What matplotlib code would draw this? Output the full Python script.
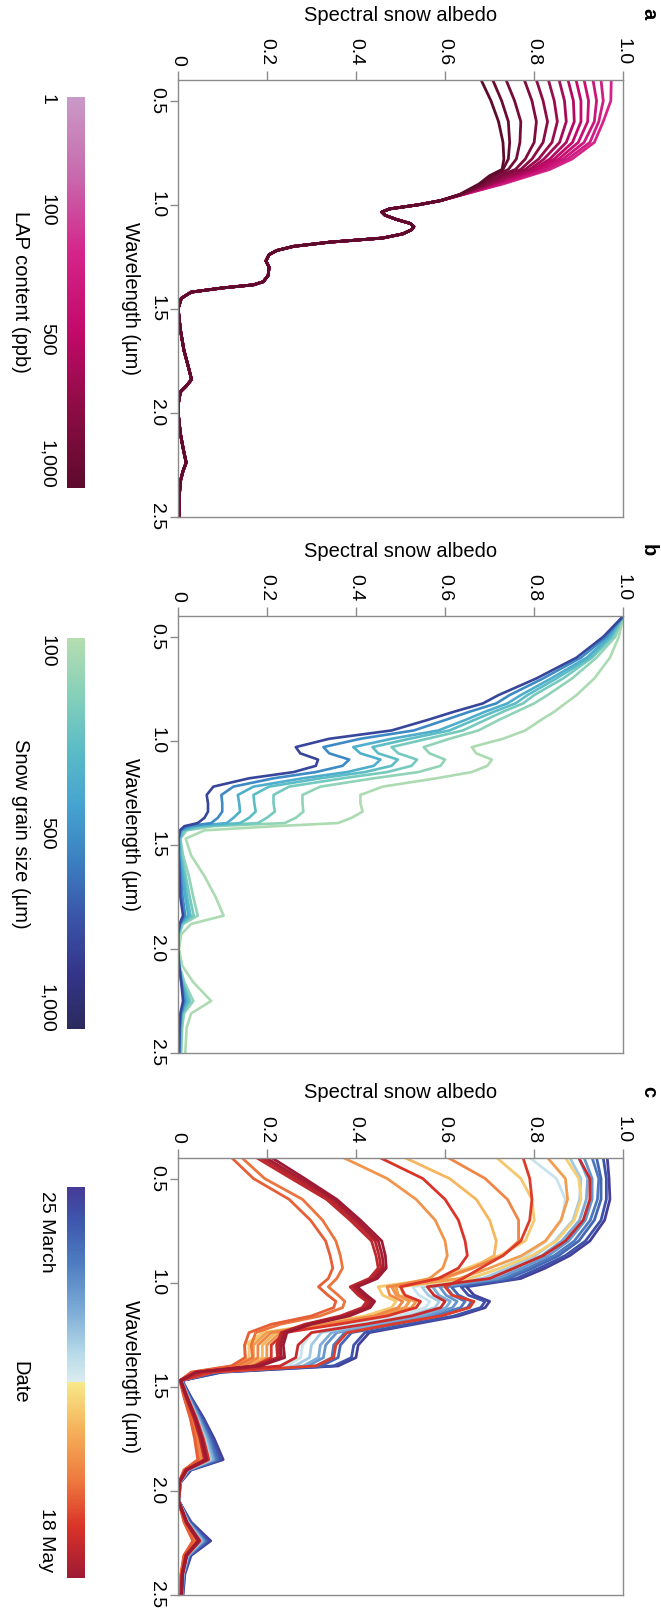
import matplotlib
matplotlib.use("Agg")
import matplotlib.pyplot as plt
import numpy as np
from matplotlib.cm import ScalarMappable
from matplotlib.colors import LinearSegmentedColormap, Normalize

plt.rcParams["font.family"] = ["Liberation Sans", "DejaVu Sans"]

# ---------------------------------------------------------------- data
# (a) light-absorbing particle content, one curve per level
lap_ppb = [1, 10, 25, 50, 100, 150, 200, 300, 400, 500, 600, 800, 1000]
wl_a_head = [0.40, 0.50, 0.60, 0.70, 0.78, 0.83, 0.86, 0.90, 0.95]
albedo_a_head = [
    [0.973, 0.972, 0.955, 0.935, 0.885, 0.835, 0.790, 0.730, 0.642],
    [0.950, 0.955, 0.945, 0.925, 0.875, 0.828, 0.785, 0.725, 0.641],
    [0.932, 0.940, 0.935, 0.912, 0.865, 0.820, 0.778, 0.720, 0.640],
    [0.912, 0.922, 0.920, 0.899, 0.855, 0.813, 0.772, 0.716, 0.640],
    [0.894, 0.905, 0.905, 0.886, 0.845, 0.806, 0.765, 0.712, 0.639],
    [0.876, 0.888, 0.890, 0.872, 0.835, 0.798, 0.758, 0.708, 0.638],
    [0.856, 0.868, 0.872, 0.857, 0.822, 0.790, 0.750, 0.704, 0.638],
    [0.832, 0.845, 0.852, 0.840, 0.810, 0.780, 0.742, 0.700, 0.637],
    [0.805, 0.820, 0.830, 0.820, 0.795, 0.770, 0.733, 0.695, 0.636],
    [0.778, 0.795, 0.805, 0.800, 0.780, 0.758, 0.724, 0.690, 0.636],
    [0.737, 0.756, 0.770, 0.768, 0.760, 0.742, 0.713, 0.685, 0.635],
    [0.707, 0.727, 0.742, 0.745, 0.742, 0.730, 0.705, 0.680, 0.634],
    [0.681, 0.703, 0.720, 0.730, 0.732, 0.728, 0.700, 0.676, 0.633],
]
# beyond ~0.95 um the LAP curves collapse onto one another
wl_a_tail = [0.98, 1.00, 1.02, 1.035, 1.05, 1.07, 1.09, 1.105, 1.12, 1.14,
             1.16, 1.18, 1.20, 1.22, 1.24, 1.27, 1.30, 1.34, 1.37, 1.385,
             1.40, 1.42, 1.45, 1.50, 1.60, 1.70, 1.78, 1.84, 1.87, 1.90,
             1.95, 2.00, 2.10, 2.18, 2.24, 2.28, 2.33, 2.42, 2.50]
albedo_a_tail = [0.590, 0.540, 0.475, 0.458, 0.465, 0.490, 0.522, 0.530, 0.525, 0.505,
                 0.460, 0.340, 0.260, 0.222, 0.205, 0.198, 0.205, 0.203, 0.192, 0.170,
                 0.100, 0.030, 0.008, 0.001, 0.006, 0.014, 0.024, 0.031, 0.020, 0.006,
                 0.002, 0.001, 0.006, 0.013, 0.019, 0.012, 0.006, 0.003, 0.003]

# (b) snow grain size
grain_um = [100, 200, 300, 400, 500, 700, 1000]
wl_b = [0.40, 0.50, 0.60, 0.70, 0.78, 0.82, 0.86, 0.90, 0.95, 0.99, 1.03, 1.06,
        1.09, 1.12, 1.15, 1.18, 1.22, 1.26, 1.30, 1.34, 1.37, 1.395, 1.41, 1.43,
        1.47, 1.55, 1.65, 1.75, 1.84, 1.88, 1.93, 2.00, 2.08, 2.16, 2.25, 2.31,
        2.38, 2.50]
albedo_b = [
    [1.00, 0.990, 0.970, 0.935, 0.895, 0.870, 0.845, 0.815, 0.780, 0.730, 0.660,
     0.670, 0.705, 0.695, 0.660, 0.580, 0.460, 0.410, 0.410, 0.415, 0.390, 0.360,
     0.220, 0.060, 0.018, 0.030, 0.060, 0.085, 0.103, 0.030, 0.008, 0.003, 0.010,
     0.035, 0.075, 0.030, 0.020, 0.017],
    [1.00, 0.982, 0.940, 0.885, 0.830, 0.800, 0.760, 0.720, 0.675, 0.610, 0.552,
     0.565, 0.600, 0.590, 0.540, 0.440, 0.320, 0.280, 0.280, 0.282, 0.265, 0.240,
     0.080, 0.020, 0.006, 0.012, 0.025, 0.035, 0.045, 0.012, 0.003, 0.001, 0.004,
     0.015, 0.035, 0.014, 0.010, 0.008],
    [1.00, 0.976, 0.930, 0.865, 0.800, 0.775, 0.730, 0.690, 0.640, 0.560, 0.480,
     0.495, 0.537, 0.525, 0.470, 0.370, 0.250, 0.215, 0.215, 0.218, 0.200, 0.180,
     0.060, 0.015, 0.005, 0.008, 0.018, 0.027, 0.036, 0.009, 0.002, 0.001, 0.003,
     0.012, 0.028, 0.011, 0.008, 0.006],
    [1.00, 0.972, 0.925, 0.850, 0.785, 0.758, 0.710, 0.665, 0.610, 0.520, 0.437,
     0.450, 0.494, 0.480, 0.420, 0.320, 0.205, 0.170, 0.172, 0.175, 0.160, 0.140,
     0.045, 0.010, 0.004, 0.006, 0.014, 0.021, 0.029, 0.007, 0.002, 0.001, 0.003,
     0.010, 0.024, 0.009, 0.006, 0.005],
    [1.00, 0.968, 0.918, 0.838, 0.770, 0.740, 0.690, 0.645, 0.585, 0.480, 0.394,
     0.410, 0.455, 0.440, 0.380, 0.280, 0.170, 0.135, 0.138, 0.140, 0.125, 0.110,
     0.035, 0.008, 0.003, 0.005, 0.011, 0.017, 0.024, 0.006, 0.001, 0.001, 0.003,
     0.009, 0.020, 0.008, 0.005, 0.004],
    [1.00, 0.962, 0.905, 0.820, 0.745, 0.715, 0.655, 0.600, 0.530, 0.410, 0.327,
     0.340, 0.385, 0.370, 0.310, 0.215, 0.125, 0.098, 0.100, 0.100, 0.090, 0.075,
     0.025, 0.006, 0.002, 0.003, 0.007, 0.011, 0.017, 0.005, 0.001, 0.001, 0.003,
     0.008, 0.016, 0.007, 0.005, 0.003],
    [1.00, 0.955, 0.895, 0.805, 0.720, 0.685, 0.620, 0.560, 0.480, 0.340, 0.265,
     0.275, 0.315, 0.310, 0.260, 0.160, 0.080, 0.065, 0.068, 0.068, 0.060, 0.045,
     0.015, 0.005, 0.002, 0.002, 0.004, 0.006, 0.012, 0.004, 0.001, 0.001, 0.003,
     0.008, 0.012, 0.006, 0.004, 0.003],
]

# (c) field spectra, days after 25 March (last = 18 May)
season_days = 54
day_c = [1, 4, 7, 10, 14, 17, 21, 25, 30, 31, 33, 36, 37, 39, 41, 43, 46, 47,
         49, 50, 51, 53, 54]
wl_c_head = [0.40, 0.50, 0.60, 0.70, 0.80, 0.87, 0.93, 0.98, 1.02, 1.06, 1.09,
             1.12, 1.16, 1.20, 1.24, 1.30, 1.36, 1.40, 1.43]
albedo_c_head = [
    [0.964, 0.968, 0.970, 0.958, 0.925, 0.880, 0.825, 0.770, 0.648, 0.665, 0.700, 0.690, 0.630, 0.530, 0.430, 0.405, 0.400, 0.360, 0.100],
    [0.955, 0.962, 0.962, 0.950, 0.915, 0.870, 0.812, 0.760, 0.636, 0.652, 0.690, 0.680, 0.620, 0.520, 0.420, 0.395, 0.390, 0.350, 0.095],
    [0.940, 0.950, 0.950, 0.935, 0.900, 0.855, 0.797, 0.742, 0.614, 0.630, 0.660, 0.650, 0.590, 0.490, 0.390, 0.365, 0.360, 0.322, 0.085],
    [0.930, 0.945, 0.942, 0.926, 0.890, 0.845, 0.786, 0.732, 0.602, 0.617, 0.645, 0.635, 0.575, 0.475, 0.375, 0.350, 0.346, 0.310, 0.080],
    [0.912, 0.930, 0.930, 0.915, 0.877, 0.832, 0.772, 0.718, 0.588, 0.602, 0.627, 0.617, 0.557, 0.457, 0.357, 0.332, 0.327, 0.292, 0.075],
    [0.900, 0.920, 0.917, 0.902, 0.862, 0.817, 0.757, 0.702, 0.572, 0.586, 0.612, 0.602, 0.542, 0.442, 0.345, 0.320, 0.316, 0.282, 0.072],
    [0.880, 0.905, 0.902, 0.887, 0.847, 0.802, 0.742, 0.684, 0.548, 0.562, 0.587, 0.577, 0.517, 0.417, 0.322, 0.300, 0.296, 0.262, 0.066],
    [0.790, 0.850, 0.870, 0.862, 0.827, 0.782, 0.722, 0.662, 0.527, 0.541, 0.566, 0.556, 0.496, 0.392, 0.302, 0.280, 0.276, 0.244, 0.062],
    [0.870, 0.900, 0.905, 0.890, 0.850, 0.795, 0.725, 0.655, 0.500, 0.506, 0.535, 0.525, 0.460, 0.338, 0.190, 0.150, 0.150, 0.122, 0.033],
    [0.716, 0.770, 0.795, 0.800, 0.780, 0.722, 0.650, 0.580, 0.450, 0.460, 0.490, 0.480, 0.420, 0.310, 0.195, 0.160, 0.160, 0.130, 0.035],
    [0.510, 0.610, 0.670, 0.700, 0.715, 0.710, 0.662, 0.600, 0.485, 0.492, 0.520, 0.510, 0.450, 0.340, 0.220, 0.190, 0.190, 0.158, 0.040],
    [0.830, 0.870, 0.875, 0.860, 0.825, 0.772, 0.700, 0.632, 0.490, 0.495, 0.520, 0.510, 0.450, 0.330, 0.200, 0.170, 0.170, 0.140, 0.036],
    [0.372, 0.470, 0.535, 0.578, 0.600, 0.605, 0.595, 0.565, 0.480, 0.490, 0.535, 0.525, 0.460, 0.350, 0.230, 0.200, 0.200, 0.165, 0.040],
    [0.607, 0.690, 0.740, 0.765, 0.765, 0.730, 0.662, 0.592, 0.470, 0.476, 0.505, 0.495, 0.440, 0.330, 0.210, 0.180, 0.180, 0.150, 0.040],
    [0.144, 0.195, 0.280, 0.325, 0.355, 0.365, 0.370, 0.357, 0.338, 0.360, 0.375, 0.370, 0.320, 0.230, 0.175, 0.165, 0.168, 0.132, 0.035],
    [0.121, 0.170, 0.250, 0.298, 0.332, 0.342, 0.348, 0.338, 0.316, 0.337, 0.355, 0.350, 0.300, 0.210, 0.160, 0.150, 0.152, 0.120, 0.030],
    [0.775, 0.790, 0.795, 0.790, 0.770, 0.730, 0.680, 0.640, 0.600, 0.615, 0.665, 0.655, 0.590, 0.480, 0.380, 0.355, 0.350, 0.310, 0.080],
    [0.454, 0.550, 0.600, 0.630, 0.645, 0.650, 0.630, 0.585, 0.500, 0.510, 0.545, 0.535, 0.470, 0.360, 0.240, 0.210, 0.210, 0.172, 0.045],
    [0.900, 0.925, 0.925, 0.910, 0.870, 0.820, 0.755, 0.700, 0.560, 0.575, 0.600, 0.590, 0.525, 0.420, 0.300, 0.270, 0.265, 0.230, 0.060],
    [0.177, 0.255, 0.334, 0.387, 0.435, 0.445, 0.450, 0.430, 0.387, 0.405, 0.424, 0.414, 0.365, 0.285, 0.232, 0.222, 0.224, 0.172, 0.040],
    [0.188, 0.265, 0.342, 0.395, 0.443, 0.452, 0.456, 0.436, 0.392, 0.411, 0.430, 0.420, 0.372, 0.290, 0.236, 0.226, 0.228, 0.176, 0.040],
    [0.198, 0.275, 0.350, 0.402, 0.450, 0.459, 0.462, 0.442, 0.397, 0.417, 0.436, 0.426, 0.378, 0.295, 0.240, 0.231, 0.233, 0.180, 0.042],
    [0.211, 0.285, 0.357, 0.410, 0.458, 0.466, 0.468, 0.448, 0.403, 0.424, 0.442, 0.432, 0.385, 0.300, 0.245, 0.237, 0.240, 0.185, 0.042],
]
wl_c_tail = [1.47, 1.55, 1.65, 1.75, 1.85, 1.90, 1.96, 2.05, 2.15, 2.24, 2.31, 2.40, 2.50]
albedo_c_tail = [
    [0.010, 0.030, 0.058, 0.082, 0.102, 0.030, 0.006, 0.003, 0.030, 0.074, 0.030, 0.016, 0.012],
    [0.010, 0.028, 0.055, 0.078, 0.096, 0.028, 0.006, 0.003, 0.028, 0.068, 0.028, 0.015, 0.011],
    [0.009, 0.027, 0.052, 0.074, 0.090, 0.026, 0.005, 0.003, 0.026, 0.064, 0.026, 0.014, 0.011],
    [0.009, 0.026, 0.050, 0.071, 0.086, 0.025, 0.005, 0.003, 0.025, 0.061, 0.025, 0.013, 0.010],
    [0.008, 0.025, 0.048, 0.068, 0.082, 0.024, 0.005, 0.003, 0.024, 0.058, 0.024, 0.013, 0.010],
    [0.008, 0.024, 0.046, 0.065, 0.079, 0.023, 0.005, 0.003, 0.023, 0.056, 0.023, 0.012, 0.010],
    [0.008, 0.023, 0.044, 0.062, 0.075, 0.022, 0.004, 0.002, 0.022, 0.053, 0.022, 0.012, 0.009],
    [0.007, 0.022, 0.042, 0.059, 0.071, 0.021, 0.004, 0.002, 0.021, 0.050, 0.021, 0.011, 0.009],
    [0.006, 0.016, 0.030, 0.041, 0.049, 0.015, 0.003, 0.002, 0.015, 0.036, 0.015, 0.008, 0.007],
    [0.006, 0.016, 0.031, 0.042, 0.050, 0.015, 0.003, 0.002, 0.016, 0.036, 0.015, 0.008, 0.007],
    [0.006, 0.018, 0.034, 0.046, 0.055, 0.017, 0.003, 0.002, 0.017, 0.040, 0.017, 0.009, 0.007],
    [0.006, 0.016, 0.031, 0.042, 0.050, 0.015, 0.003, 0.002, 0.016, 0.037, 0.015, 0.008, 0.007],
    [0.006, 0.018, 0.035, 0.048, 0.058, 0.017, 0.003, 0.002, 0.018, 0.042, 0.017, 0.009, 0.008],
    [0.006, 0.017, 0.033, 0.046, 0.055, 0.016, 0.003, 0.002, 0.017, 0.040, 0.016, 0.009, 0.007],
    [0.005, 0.015, 0.029, 0.040, 0.047, 0.014, 0.003, 0.002, 0.015, 0.035, 0.014, 0.008, 0.006],
    [0.005, 0.014, 0.028, 0.038, 0.045, 0.014, 0.003, 0.002, 0.014, 0.034, 0.014, 0.007, 0.006],
    [0.008, 0.022, 0.042, 0.058, 0.070, 0.021, 0.004, 0.002, 0.021, 0.050, 0.021, 0.011, 0.009],
    [0.006, 0.019, 0.036, 0.050, 0.060, 0.018, 0.003, 0.002, 0.019, 0.045, 0.018, 0.010, 0.008],
    [0.007, 0.021, 0.040, 0.056, 0.068, 0.020, 0.004, 0.002, 0.020, 0.050, 0.020, 0.011, 0.009],
    [0.006, 0.019, 0.037, 0.051, 0.061, 0.018, 0.003, 0.002, 0.019, 0.045, 0.018, 0.010, 0.008],
    [0.006, 0.020, 0.038, 0.052, 0.062, 0.019, 0.003, 0.002, 0.019, 0.046, 0.019, 0.010, 0.008],
    [0.006, 0.020, 0.039, 0.054, 0.064, 0.019, 0.003, 0.002, 0.020, 0.047, 0.019, 0.010, 0.008],
    [0.007, 0.021, 0.040, 0.055, 0.065, 0.020, 0.004, 0.002, 0.020, 0.048, 0.020, 0.011, 0.009],
]

# ---------------------------------------------------------------- colours
cmap_lap = LinearSegmentedColormap.from_list(
    "lap", ["#c99ac6", "#c86aae", "#d4248a", "#c20a6a", "#8c0c44", "#5e0a2c"])
cmap_grain = LinearSegmentedColormap.from_list(
    "grain", ["#b5ddb0", "#86d0b9", "#5bbcc6", "#45a3d0", "#3b7fc0",
              "#3a55a8", "#34358a", "#2b2a5e"])
cmap_date = LinearSegmentedColormap.from_list(
    "date", [(0.0, "#463a96"), (0.08, "#3d55ab"), (0.2, "#4f7fc2"),
             (0.32, "#7fadd7"), (0.42, "#b4d8e8"), (0.4999, "#dcedf0"),
             (0.5, "#f7e98a"), (0.62, "#f5b25a"), (0.75, "#ee7a3f"),
             (0.87, "#da3328"), (1.0, "#9e1a33")])

GREY = "#8a8a8a"
W, H = 661, 1609
fig = plt.figure(figsize=(W / 100, H / 100), dpi=100)


def px_axes(x0, y0, x1, y1):
    # box given in pixels from the top-left corner
    return fig.add_axes([x0 / W, 1 - y1 / H, (x1 - x0) / W, (y1 - y0) / H])


def style_panel(ax, letter):
    ax.set_xlim(0, 1)
    ax.set_ylim(2.5, 0.4)
    ax.xaxis.tick_top()
    ax.set_xticks([0, 0.2, 0.4, 0.6, 0.8, 1.0])
    ax.set_xticklabels(["0", "0.2", "0.4", "0.6", "0.8", "1.0"])
    ax.set_yticks([0.5, 1.0, 1.5, 2.0, 2.5])
    ax.set_yticklabels(["0.5", "1.0", "1.5", "2.0", "2.5"])
    ax.tick_params(axis="x", top=True, bottom=False, length=6.5, width=1,
                   color=GREY, pad=4, labelsize=14, labelrotation=-90)
    ax.tick_params(axis="y", left=True, right=False, length=5.5, width=1,
                   color=GREY, pad=3.5, labelsize=14, labelrotation=-90)
    for lab in ax.get_yticklabels():
        lab.set_va("center")
    for s in ax.spines.values():
        s.set_color(GREY)
        s.set_linewidth(1)
    ax.text(0.5, 1.148, "Spectral snow albedo", transform=ax.transAxes,
            ha="center", va="center", fontsize=14.5)
    ax.text(-0.106, 0.5, "Wavelength (µm)", transform=ax.transAxes,
            rotation=-90, ha="center", va="center", fontsize=14.5)
    ax.text(1.0566, 1.151, letter, transform=ax.transAxes, rotation=-90,
            ha="center", va="center", fontsize=14.5, fontweight="bold")


def add_cbar(box, cmap, ticks, labels, title):
    cax = px_axes(*box)
    cb = fig.colorbar(ScalarMappable(norm=Normalize(0, 1), cmap=cmap),
                      cax=cax, orientation="vertical", ticklocation="left")
    cb.outline.set_visible(False)
    cax.invert_yaxis()
    cb.set_ticks(ticks)
    cb.set_ticklabels(labels)
    cax.tick_params(length=0, pad=8.5, labelsize=14, labelrotation=-90)
    for lab in cax.get_yticklabels():
        lab.set_va("center")
    fig.text(20 / W, 1 - (box[1] + box[3]) / 2 / H, title, rotation=-90,
             ha="center", va="center", fontsize=14.5)


# ---------------------------------------------------------------- panel a
ax_a = px_axes(177.7, 80, 623.3, 516.7)
lap_colors = cmap_lap(np.linspace(0.4, 1.0, len(lap_ppb)))
for row, col in zip(albedo_a_head, lap_colors):
    ax_a.plot(row + albedo_a_tail, wl_a_head + wl_a_tail, color=col, lw=2.0,
              solid_capstyle="round", solid_joinstyle="round")
style_panel(ax_a, "a")
add_cbar((67, 96.7, 85, 487.7), cmap_lap, [0.006, 0.29, 0.62, 0.94],
         ["1", "100", "500", "1,000"], "LAP content (ppb)")

# ---------------------------------------------------------------- panel b
ax_b = px_axes(177.7, 616, 623.3, 1053)
grain_frac = np.interp(grain_um, [100, 1000], [0.03, 0.78])
for row, f in zip(albedo_b, grain_frac):
    ax_b.plot(row, wl_b, color=cmap_grain(f), lw=1.9,
              solid_capstyle="round", solid_joinstyle="round")
style_panel(ax_b, "b")
add_cbar((67, 638, 85, 1029), cmap_grain, [0.033, 0.50, 0.947],
         ["100", "500", "1,000"], "Snow grain size (µm)")

# ---------------------------------------------------------------- panel c
ax_c = px_axes(177.7, 1157.7, 623.3, 1595)
for day, head, tail in zip(day_c, albedo_c_head, albedo_c_tail):
    ax_c.plot(head + tail, wl_c_head + wl_c_tail,
              color=cmap_date(day / season_days), lw=2.0,
              solid_capstyle="round", solid_joinstyle="round")
style_panel(ax_c, "c")
add_cbar((67, 1186.7, 85, 1578), cmap_date, [0.115, 0.903],
         ["25 March", "18 May"], "Date")

fig.savefig("out.png", dpi=100)
